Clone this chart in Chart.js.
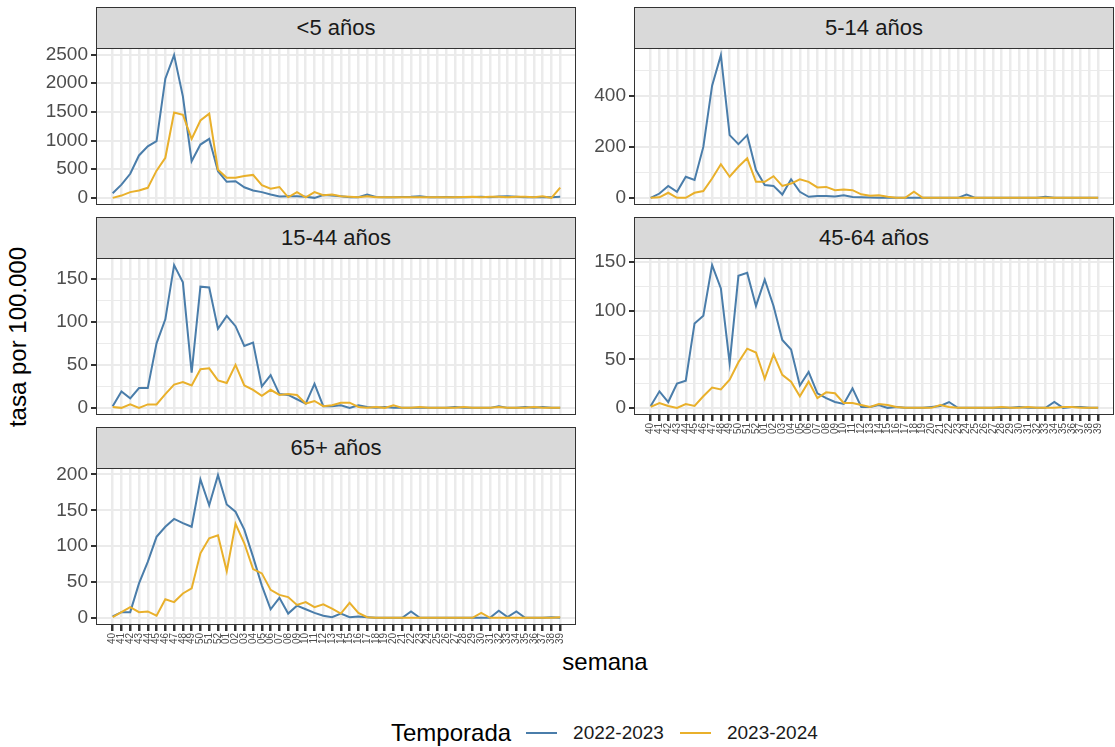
<!DOCTYPE html>
<html lang="es">
<head>
<meta charset="utf-8">
<title>tasa por 100.000 por semana</title>
<script src="https://cdn.jsdelivr.net/npm/chart.js@4.4.1/dist/chart.umd.min.js"></script>
<style>
  html, body { margin: 0; padding: 0; background: #fff; }
  body {
    width: 1115px; height: 747px; position: relative; overflow: hidden;
    font-family: "Liberation Sans", Arial, sans-serif;
  }
  .strip {
    position: absolute; box-sizing: border-box;
    background: #d9d9d9; border: 1px solid #333;
    color: #1a1a1a; font-size: 22px;
    display: flex; align-items: center; justify-content: center;
  }
  canvas { position: absolute; }
  #ytitle {
    position: absolute; left: 18px; top: 337px;
    transform: translate(-50%, -50%) rotate(-90deg);
    font-size: 24px; white-space: nowrap; color: #000;
  }
  #xtitle {
    position: absolute; left: 605px; top: 662px;
    transform: translate(-50%, -50%);
    font-size: 24px; color: #000;
  }
  #legend {
    position: absolute; left: 391px; top: 733px;
    transform: translateY(-50%);
    display: flex; align-items: center; white-space: nowrap;
  }
  #legend .lt { font-size: 24px; margin-right: 15px; }
  #legend .key { width: 31px; height: 2px; margin-right: 16px; }
  #legend .ll { font-size: 19px; margin-right: 16px; color: #1a1a1a; }
</style>
</head>
<body>
<div id="ytitle">tasa por 100.000</div>
<div id="xtitle">semana</div>
<div id="legend"></div>

<script>
// --- datos ---
const weeks = ['40','41','42','43','44','45','46','47','48','49','50','51','52',
  '01','02','03','04','05','06','07','08','09','10','11','12','13','14','15','16',
  '17','18','19','20','21','22','23','24','25','26','27','28','29','30','31','32',
  '33','34','35','36','37','38','39'];

const seasons = ['2022-2023', '2023-2024'];

// <5 años
const lt5_2223 = [80,230,420,740,900,990,2080,2490,1770,640,930,1030,465,280,290,185,130,100,60,25,
  30,30,20,0,50,40,30,10,10,60,15,10,10,15,20,30,10,10,15,10,10,15,20,10,25,30,20,10,10,15,10,20];
const lt5_2324 = [0,40,100,130,175,475,700,1490,1450,1030,1350,1470,490,350,350,380,400,220,160,190,
  10,100,10,100,45,60,30,20,10,30,10,10,10,10,10,10,10,10,10,10,15,20,10,20,20,10,20,20,10,30,0,180];
const lt5Ticks = [0, 500, 1000, 1500, 2000, 2500];

// 5-14 años
const a514_2223 = [0,17,47,24,83,70,200,440,560,246,211,246,109,50,47,13,73,24,4,7,
  7,5,10,3,2,1,0,0,0,0,0,0,0,0,0,0,13,0,0,0,0,0,0,0,0,4,0,0,0,0,0,0];
const a514_2324 = [0,2,20,0,0,20,27,76,132,83,122,155,63,63,85,47,56,73,63,41,
  43,30,33,30,14,8,10,4,0,0,24,0,0,0,0,0,0,0,0,0,0,0,0,0,0,0,0,0,0,0,0,0];
const a514Ticks = [0, 200, 400];

// 15-44 años
const a1544_2223 = [2,19,11,23,23,75,103,166,146,41,141,140,92,107,95,72,76,25,38,16,
  15,10,5,28,2,2,3,0,3,1,0,1,0,0,0,0,0,0,0,1,0,0,0,0,2,0,0,1,0,1,0,0];
const a1544_2324 = [1,0,4,0,4,4,16,27,30,26,45,46,32,29,50,26,21,14,21,15,
  16,15,5,8,2,3,6,6,1,0,1,0,3,0,0,1,0,0,0,0,1,0,0,0,1,0,0,0,1,0,0,0];
const a1544Ticks = [0, 50, 100, 150];

// 45-64 años
const a4564_2223 = [2,17,6,25,28,87,95,147,123,46,136,139,105,132,105,70,60,23,37,15,
  10,6,4,20,1,1,3,0,1,0,0,0,1,2,6,0,0,0,0,0,0,0,1,0,0,0,6,0,1,1,0,0];
const a4564_2324 = [1,5,2,0,4,2,12,21,19,29,47,61,57,30,55,34,27,12,27,10,
  16,15,5,5,3,1,4,3,1,0,0,0,0,3,1,0,0,0,0,0,1,0,0,1,0,0,0,1,1,0,0,0];
const a4564Ticks = [0, 50, 100, 150];

// 65+ años
const a65_2223 = [2,8,8,48,78,113,127,138,132,127,193,157,199,158,148,123,85,45,12,28,
  6,17,12,7,3,1,6,1,2,1,0,0,0,0,9,0,0,0,0,0,0,0,0,0,10,1,9,0,0,0,1,0];
const a65_2324 = [1,8,15,8,9,3,26,22,34,41,90,111,115,65,131,104,68,62,39,32,
  29,18,22,15,19,13,6,21,7,1,0,0,0,0,0,0,0,0,0,0,0,0,7,0,0,0,0,0,0,0,0,1];
const a65Ticks = [0, 50, 100, 150, 200];

// --- estilo ---
const FONT = '"Liberation Sans", Arial, sans-serif';
const COLORS = ['#4A7DAA', '#E9B02B'];
const PANEL_W = 480, PANEL_H = 157, STRIP_H = 41;
const AXIS_W = 62, X_AXIS_H = 38, PAD_T = 16, PAD_B = 16;

const panels = [
  { label: '<5 años',    s1: lt5_2223,   s2: lt5_2324,   ticks: lt5Ticks,   col: 0, row: 0, showX: false },
  { label: '5-14 años',  s1: a514_2223,  s2: a514_2324,  ticks: a514Ticks,  col: 1, row: 0, showX: false },
  { label: '15-44 años', s1: a1544_2223, s2: a1544_2324, ticks: a1544Ticks, col: 0, row: 1, showX: false },
  { label: '45-64 años', s1: a4564_2223, s2: a4564_2324, ticks: a4564Ticks, col: 1, row: 1, showX: true },
  { label: '65+ años',   s1: a65_2223,   s2: a65_2324,   ticks: a65Ticks,   col: 0, row: 2, showX: true }
];
const colLeft = [96, 634];
const rowTop = [48, 258, 468];

// borde del panel (como theme_bw)
const panelBox = {
  id: 'panelBox',
  afterDraw(chart) {
    const { ctx, chartArea: a } = chart;
    ctx.save();
    ctx.strokeStyle = '#333';
    ctx.lineWidth = 1;
    ctx.strokeRect(a.left + 0.5, a.top + 0.5, a.right - a.left - 1, a.bottom - a.top - 1);
    ctx.restore();
  }
};

function makePanel(p) {
  const left = colLeft[p.col], top = rowTop[p.row];

  const strip = document.createElement('div');
  strip.className = 'strip';
  strip.style.left = left + 'px';
  strip.style.top = (top - STRIP_H) + 'px';
  strip.style.width = PANEL_W + 'px';
  strip.style.height = (STRIP_H + 1) + 'px';
  strip.textContent = p.label;
  document.body.appendChild(strip);

  const canvas = document.createElement('canvas');
  canvas.width = AXIS_W + PANEL_W + 4;
  canvas.height = PAD_T + PANEL_H + (p.showX ? X_AXIS_H : PAD_B);
  canvas.style.left = (left - AXIS_W) + 'px';
  canvas.style.top = (top - PAD_T) + 'px';
  document.body.appendChild(canvas);

  // límites como ggplot (expansión 5%)
  const vmax = Math.max(...p.s1, ...p.s2);
  const lo = -0.05 * vmax, hi = 1.05 * vmax;
  const half = (p.ticks[1] - p.ticks[0]) / 2;
  const minor = p.ticks.map(t => t + half).filter(t => t < hi);
  const allTicks = p.ticks.concat(minor).sort((a, b) => a - b);
  const isMajor = v => p.ticks.includes(v);

  new Chart(canvas, {
    type: 'line',
    data: {
      datasets: [
        {
          label: seasons[1],
          data: p.s2.map((v, i) => ({ x: i, y: v })),
          borderColor: COLORS[1],
          order: 0
        },
        {
          label: seasons[0],
          data: p.s1.map((v, i) => ({ x: i, y: v })),
          borderColor: COLORS[0],
          order: 1
        }
      ]
    },
    options: {
      responsive: false,
      animation: false,
      events: [],
      elements: {
        line: { borderWidth: 2, tension: 0, fill: false },
        point: { radius: 0 }
      },
      layout: { padding: { top: PAD_T, right: 4, bottom: p.showX ? 0 : PAD_B, left: 0 } },
      plugins: { legend: { display: false }, tooltip: { enabled: false } },
      scales: {
        x: {
          type: 'linear',
          min: -1.9,
          max: 52.8,
          afterBuildTicks: s => { s.ticks = weeks.map((w, i) => ({ value: i })); },
          afterFit: s => { s.height = p.showX ? X_AXIS_H : 0; },
          border: { display: false },
          grid: {
            color: '#ebebeb',
            lineWidth: 2.5,
            drawTicks: p.showX,
            tickLength: 6,
            tickColor: '#333'
          },
          ticks: {
            display: p.showX,
            autoSkip: false,
            minRotation: 90,
            maxRotation: 90,
            padding: 2,
            color: '#4d4d4d',
            font: { family: FONT, size: 10 },
            callback: v => weeks[v]
          }
        },
        y: {
          min: lo,
          max: hi,
          afterBuildTicks: s => { s.ticks = allTicks.map(v => ({ value: v })); },
          afterFit: s => { s.width = AXIS_W; },
          border: { display: false },
          grid: {
            color: '#ebebeb',
            lineWidth: c => isMajor(c.tick.value) ? 2 : 1,
            tickLength: 5,
            tickColor: c => isMajor(c.tick.value) ? '#333' : 'rgba(0,0,0,0)'
          },
          ticks: {
            padding: 3,
            color: '#4d4d4d',
            font: { family: FONT, size: 19 },
            callback: v => isMajor(v) ? String(v) : ''
          }
        }
      }
    },
    plugins: [panelBox]
  });
}

panels.forEach(makePanel);

// leyenda
const legend = document.getElementById('legend');
legend.innerHTML = '<span class="lt">Temporada</span>' +
  seasons.map((s, i) =>
    '<span class="key" style="background:' + COLORS[i] + '"></span><span class="ll">' + s + '</span>'
  ).join('');
</script>
</body>
</html>
